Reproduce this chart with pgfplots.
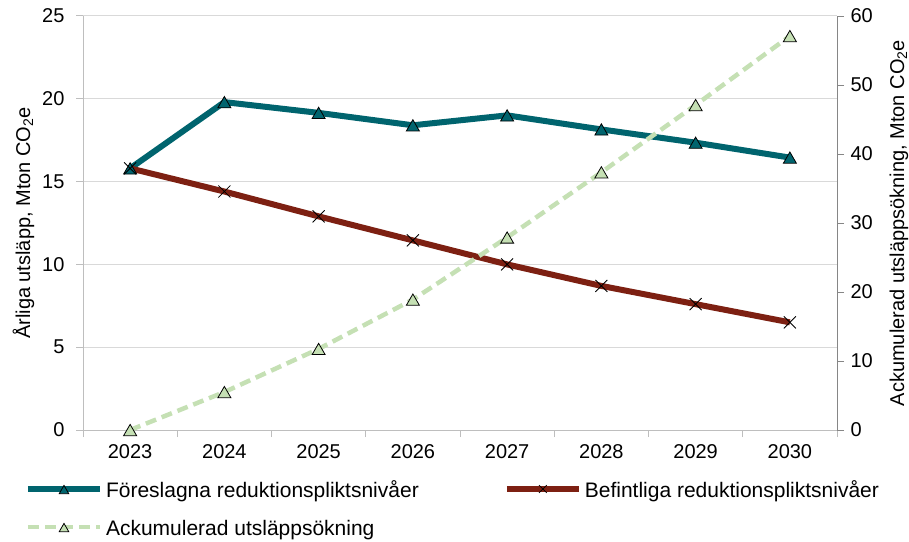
\documentclass[border=0pt]{standalone}
\usepackage{fontspec}
\setmainfont{Liberation Sans}
\usepackage{pgfplots}
\usepackage{pgfplotstable}
\pgfplotsset{compat=1.18}
\definecolor{tealc}{RGB}{0,100,110}
\definecolor{brownc}{RGB}{125,32,18}
\definecolor{greenc}{RGB}{197,224,180}
\definecolor{gridc}{RGB}{217,217,217}
\definecolor{axc}{RGB}{190,190,190}
\definecolor{axr}{RGB}{134,134,134}

\pgfplotstableread{
x fore bef ack
0 15.8 15.8 0
1 19.8 14.4 5.5
2 19.15 12.9 11.75
3 18.4 11.45 18.9
4 19.0 10.0 27.9
5 18.15 8.7 37.35
6 17.35 7.6 47.1
7 16.45 6.5 57.1
}\datatable

\begin{document}
\begin{tikzpicture}
\useasboundingbox (0,0) rectangle (909pt,541pt);
\pgfplotsset{
  base/.style={
    at={(83pt,111pt)}, anchor=south west,
    width=754pt, height=414pt, scale only axis,
    xmin=-0.5, xmax=7.5,
    /pgf/number format/assume math mode=true,
    tick label style={font=\fontsize{20}{24}\selectfont},
    tick align=outside,
    clip=false,
  }
}
\begin{axis}[base,
  ymin=0, ymax=25, ytick={0,5,...,25},
  axis x line*=bottom, axis y line*=left,
  xtick={-0.5,0.5,...,7.5},
  x tick label as interval,
  xticklabels={2023,2024,2025,2026,2027,2028,2029,2030},
  xticklabel style={yshift=-4pt},
  yticklabel style={xshift=-8pt},
  axis line style={draw=axc, line width=1pt},
  ymajorgrids, grid style={gridc, line width=1pt},
  major tick length=7pt,
  tick style={axc, line width=1pt},
  ylabel={Årliga utsläpp, Mton CO\textsubscript{2}e},
  every axis y label/.style={at={([xshift=-53pt]axis description cs:0,0.5)}, rotate=90, anchor=base, font=\fontsize{20}{24}\selectfont},
  legend columns=2,
  legend cell align=left,
  legend style={at={([xshift=-58pt,yshift=-52pt]axis description cs:0,0)}, anchor=north west,
    draw=none, fill=none, inner sep=0pt, outer sep=0pt,
    font=\fontsize{21}{25}\selectfont, row sep=19pt,
    nodes={inner sep=0pt, text height=15pt, text depth=4pt},
    /tikz/every odd column/.append style={column sep=3pt},
    /tikz/every even column/.append style={column sep=85pt}},
  legend image code/.code={\draw[mark repeat=2,mark phase=2,#1,mark size=5.5pt] plot coordinates {(0pt,2.5pt) (36pt,2.5pt) (72pt,2.5pt)};},
]
\addplot[tealc, line width=6pt, mark=triangle*, mark size=7.5pt,
  mark options={fill=tealc, draw=black, line width=0.8pt, yshift=-1.9pt}]
  table[x=x, y=fore] {\datatable};
\addlegendentry{Föreslagna reduktionspliktsnivåer}
\addplot[brownc, line width=6pt, mark=x, mark size=8.5pt,
  mark options={draw=black, line width=0.8pt}]
  table[x=x, y=bef] {\datatable};
\addlegendentry{Befintliga reduktionspliktsnivåer}
\addlegendimage{greenc, line width=4.5pt, dash pattern=on 11pt off 6pt, mark=triangle*, mark size=7.5pt,
  mark options={solid, fill=greenc, draw=black, line width=0.8pt, yshift=-1.9pt}}
\addlegendentry{Ackumulerad utsläppsökning}
\end{axis}
\begin{axis}[base,
  ymin=0, ymax=60, ytick={0,10,...,60},
  axis x line=none, axis y line*=right,
  axis line style={draw=axr, line width=1pt},
  major tick length=7pt,
  tick style={axr, line width=1pt},
  yticklabel style={xshift=3pt},
  ylabel={Ackumulerad utsläppsökning, Mton CO\textsubscript{2}e},
  every axis y label/.style={at={([xshift=67pt]axis description cs:1,0.5)}, rotate=90, anchor=base, font=\fontsize{20}{24}\selectfont},
]
\addplot[greenc, line width=4.5pt, dash pattern=on 11pt off 6pt, mark=triangle*, mark size=7.5pt,
  mark options={solid, fill=greenc, draw=black, line width=0.8pt, yshift=-1.9pt}]
  table[x=x, y=ack] {\datatable};
\end{axis}
\end{tikzpicture}
\end{document}
